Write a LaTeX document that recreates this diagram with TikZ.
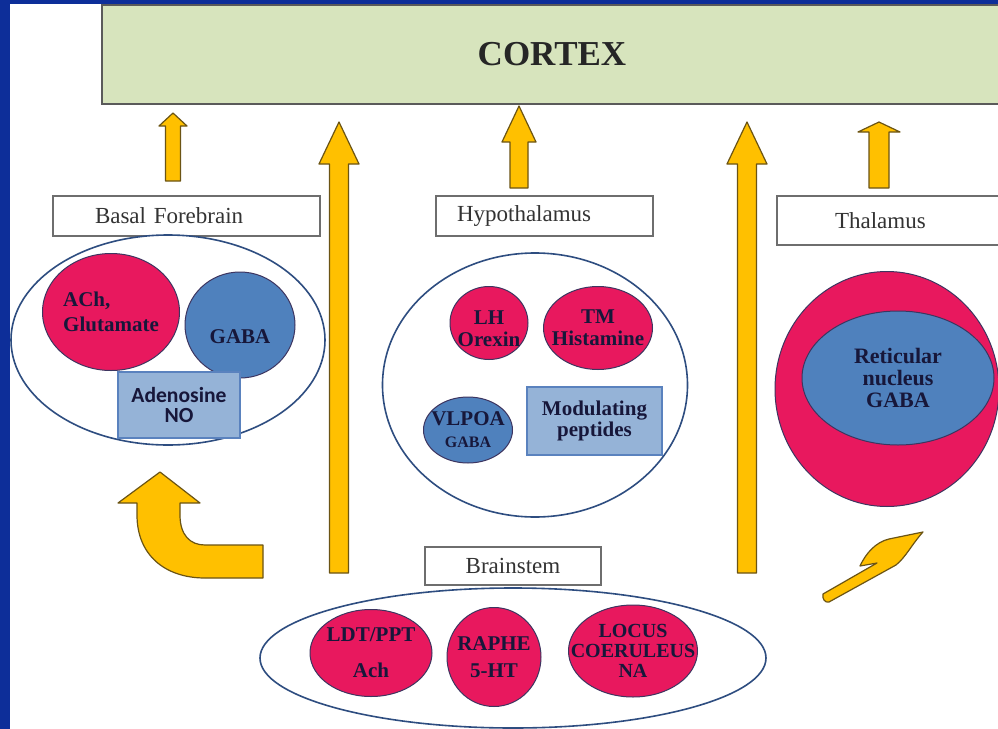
\documentclass[tikz,border=0pt]{standalone}
\usepackage{fontspec}
\setmainfont{Liberation Serif}
\newfontfamily\calibrifont{Carlito}
\usetikzlibrary{shapes.geometric,calc}

\definecolor{slideblue}{HTML}{0D2E99}
\definecolor{cortexgreen}{HTML}{D7E4BD}
\definecolor{cortexline}{HTML}{5A5A5A}
\definecolor{boxgray}{HTML}{6E6E6E}
\definecolor{labelink}{HTML}{333333}
\definecolor{groupline}{HTML}{2E4D80}
\definecolor{cellred}{HTML}{E8185E}
\definecolor{cellblue}{HTML}{4F81BD}
\definecolor{cellline}{HTML}{3D3560}
\definecolor{cellink}{HTML}{17173A}
\definecolor{noteblue}{HTML}{95B3D7}
\definecolor{noteline}{HTML}{5A82BE}
\definecolor{arrowamber}{HTML}{FFC000}
\definecolor{arrowline}{HTML}{6B5414}

\newcommand{\blockarrow}[5]{%
  \filldraw[amber] let \p1=(#1), \p2=(#2) in
    (\x1-#3,\y1) -- (\x1-#3,\y2-#5) -- (\x1-#4,\y2-#5) -- (\x1,\y2)
    -- (\x1+#4,\y2-#5) -- (\x1+#3,\y2-#5) -- (\x1+#3,\y1) -- cycle;}

\begin{document}
\begin{tikzpicture}[x=0.5pt,y=-0.5pt,
  labelbox/.style={rectangle,draw=boxgray,line width=0.8pt,fill=white,minimum height=20pt,text=labelink,font=\fontsize{11.5}{13}\selectfont},
  group/.style={ellipse,draw=groupline,line width=0.8pt,fill=white,inner sep=0pt},
  cell/.style={ellipse,draw=cellline,line width=0.5pt,inner sep=0pt},
  celltext/.style={align=center,text=cellink,font=\fontsize{10.5}{11}\selectfont\bfseries},
  notebox/.style={rectangle,draw=noteline,line width=0.8pt,fill=noteblue,inner sep=0pt,align=center,text=cellink},
  amber/.style={fill=arrowamber,draw=arrowline,line width=0.6pt,line join=round}]
  \useasboundingbox (0,0) rectangle (998,729);
  \fill[slideblue] (0,0) rectangle (998,729);
  \fill[white] (10,4) rectangle (998,729);

  \node[rectangle,draw=cortexline,line width=1pt,fill=cortexgreen,minimum width=450pt,minimum height=49.5pt,inner sep=0pt,font=\fontsize{17.5}{20}\selectfont\bfseries,text=black!85] (cortex) at (552,54.5) {CORTEX};

  \node[labelbox,text width=91.5pt,inner xsep=21pt,align=left] (bflabel) at (186.5,216) {Basal Forebrain};
  \node[labelbox,text width=87.5pt,inner xsep=10.5pt,align=left] (hylabel) at (544.5,216) {Hypothalamus};
  \node[labelbox,text width=56pt,inner xsep=29pt,minimum height=24.5pt,align=left] (thlabel) at (891,220.5) {Thalamus};
  \node[labelbox,minimum width=88pt,minimum height=19pt] (bslabel) at (513,566) {Brainstem};

  \node[group,minimum width=157pt,minimum height=105pt] (bfgroup) at (168,340) {};
  \node[cell,fill=cellred,minimum width=68.5pt,minimum height=58.5pt,label={[celltext,align=left]center:ACh,\\[1.5pt]Glutamate}] (ach) at (111,312) {};
  \node[cell,fill=cellblue,minimum width=55pt,minimum height=53pt,label={[celltext,yshift=-6pt]center:GABA}] (bfgaba) at (240,325) {};
  \node[notebox,minimum width=61pt,minimum height=33pt,font=\calibrifont\fontsize{10.8}{10}\selectfont\bfseries] (adenosine) at (179,405) {Adenosine\\NO};

  \node[group,minimum width=152.5pt,minimum height=132pt] (hygroup) at (535,385) {};
  \node[cell,fill=cellred,minimum width=39pt,minimum height=36.5pt,label={[celltext,yshift=-3pt]center:LH\\Orexin}] (lh) at (489,323) {};
  \node[cell,fill=cellred,minimum width=54.5pt,minimum height=41.5pt,label={[celltext]center:TM\\Histamine}] (tm) at (598,328) {};
  \node[cell,fill=cellblue,minimum width=44.5pt,minimum height=33pt,label={[celltext]center:VLPOA\\{\fontsize{8}{9}\selectfont GABA}}] (vlpoa) at (468,430) {};
  \node[notebox,minimum width=67.5pt,minimum height=34pt,font=\fontsize{10.5}{10.5}\selectfont\bfseries] (peptides) at (594.5,421) {Modulating\\peptides};

  \node[cell,fill=cellred,minimum width=112pt,minimum height=117.5pt] (thalamus) at (887,389) {};
  \node[cell,fill=cellblue,minimum width=96pt,minimum height=67pt,label={[celltext,font=\fontsize{11}{11}\selectfont\bfseries]center:Reticular\\nucleus\\GABA}] (reticular) at (898,378) {};

  \node[group,minimum width=253pt,minimum height=70pt] (bsgroup) at (513,658) {};
  \node[cell,fill=cellred,minimum width=61pt,minimum height=43.5pt,label={[celltext]center:LDT/PPT\\[7pt]Ach}] (ldt) at (371,653) {};
  \node[cell,fill=cellred,minimum width=47pt,minimum height=49.5pt,label={[celltext]center:RAPHE\\[2.5pt]5-HT}] (raphe) at (494,657) {};
  \node[cell,fill=cellred,minimum width=64.5pt,minimum height=46pt,label={[celltext,font=\fontsize{10}{10}\selectfont\bfseries]center:LOCUS\\COERULEUS\\NA}] (locus) at (633,651) {};

  \coordinate (bffoot) at (173,181);
  \coordinate (bftip) at ($(bffoot |- cortex.south)+(0,8)$);
  \coordinate (leftfoot) at (339,573);
  \coordinate (lefttip) at ($(leftfoot |- cortex.south)+(0,17)$);
  \coordinate (hyfoot) at (519,188);
  \coordinate (hytip) at ($(hyfoot |- cortex.south)+(0,1)$);
  \coordinate (rightfoot) at (747,573);
  \coordinate (righttip) at ($(rightfoot |- cortex.south)+(0,17)$);
  \coordinate (thfoot) at (879,188);
  \coordinate (thtip) at ($(thfoot |- cortex.south)+(0,17)$);
  \blockarrow{bffoot}{bftip}{3.75pt}{7pt}{6.5pt}
  \blockarrow{leftfoot}{lefttip}{4.75pt}{10pt}{21pt}
  \blockarrow{hyfoot}{hytip}{4.5pt}{8.5pt}{18pt}
  \blockarrow{rightfoot}{righttip}{4.75pt}{10pt}{21pt}
  \blockarrow{thfoot}{thtip}{5pt}{10.5pt}{5pt}

  \filldraw[amber] (160,472) -- (200,503) -- (180,503) -- (180,515) .. controls (180,535) and (190,545) .. (205,545) -- (263,545) -- (263,578) -- (205,578) .. controls (165,578) and (137,555) .. (137,515) -- (137,503) -- (118,503) -- cycle;
  \filldraw[amber] (823,594) -- (877,563) -- (860,566) .. controls (866,553) and (876,542) .. (889,539) -- (923,532) .. controls (912,544) and (906,557) .. (896,565) -- (829,602) .. controls (825,603) and (822,599) .. (823,594) -- cycle;
\end{tikzpicture}
\end{document}
